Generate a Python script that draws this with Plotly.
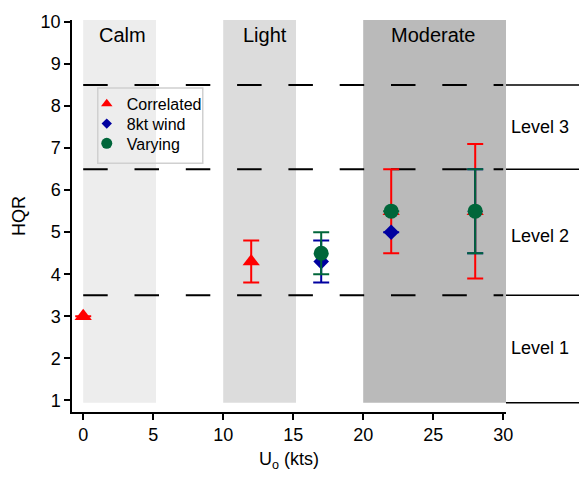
import plotly.graph_objects as go

# ---- data ----
corr_x = [0, 12, 22, 28]
corr_y = [3.0, 4.3, 5.5, 5.5]
corr_err = [0.0, 0.5, 1.0, 1.6]

wind_x = [17, 22, 28]
wind_y = [4.3, 5.0, 5.5]
wind_err = [0.5, 0.0, 1.0]

vary_x = [17, 22, 28]
vary_y = [4.5, 5.5, 5.5]
vary_err = [0.5, 0.0, 1.0]

series_names = ["Correlated", "8kt wind", "Varying"]

regions = ["Calm", "Light", "Moderate"]
region_x0 = [0, 10, 20]
region_x1 = [5.2, 15.2, 30.2]
region_label_x = [2.8, 13.0, 25.0]
region_colors = ["#ededed", "#dcdcdc", "#bababa"]

level_bounds = [8.5, 6.5, 3.5]
level_bottom = 0.94
levels = ["Level 3", "Level 2", "Level 1"]
level_label_y = [7.5, 4.9, 2.25]

x_ticks = [0, 5, 10, 15, 20, 25, 30]
y_ticks = [1, 2, 3, 4, 5, 6, 7, 8, 9, 10]

XR = [-0.8, 30.2]
YR = [0.72, 10.05]

FONT = "Liberation Sans, Arial, sans-serif"
RED = "#ff0000"
BLUE = "#0000a0"
GREEN = "#00663a"

fig = go.Figure()

fig.add_trace(go.Scatter(
    x=corr_x, y=corr_y, mode="markers", name=series_names[0], showlegend=False,
    marker=dict(symbol="triangle-up", size=15, color=RED),
    error_y=dict(type="data", array=corr_err, color=RED, thickness=2, width=8),
))
fig.add_trace(go.Scatter(
    x=wind_x, y=wind_y, mode="markers", name=series_names[1], showlegend=False,
    marker=dict(symbol="diamond", size=12, color=BLUE),
    error_y=dict(type="data", array=wind_err, color=BLUE, thickness=2, width=8),
))
fig.add_trace(go.Scatter(
    x=vary_x, y=vary_y, mode="markers", name=series_names[2], showlegend=False,
    marker=dict(symbol="circle", size=15, color=GREEN),
    error_y=dict(type="data", array=vary_err, color=GREEN, thickness=2, width=8),
))

# legend entries (each in its own legend for tight row spacing)
legend_syms = ["triangle-up", "diamond", "circle"]
legend_sizes = [10, 8, 11]
legend_cols = [RED, BLUE, GREEN]
legend_ids = ["legend", "legend2", "legend3"]
for nm, sym, sz, col, lid in zip(series_names, legend_syms, legend_sizes, legend_cols, legend_ids):
    fig.add_trace(go.Scatter(x=[None], y=[None], mode="markers", name=nm,
                             marker=dict(symbol=sym, size=sz, color=col),
                             showlegend=True, legend=lid))

shapes = []
for x0, x1, c in zip(region_x0, region_x1, region_colors):
    shapes.append(dict(type="rect", xref="x", yref="y", x0=x0, x1=x1,
                       y0=level_bottom, y1=YR[1], fillcolor=c,
                       line=dict(width=0), layer="below"))
for lv in level_bounds:
    shapes.append(dict(type="line", xref="x", yref="y", x0=0, x1=30,
                       y0=lv, y1=lv, line=dict(color="black", width=2,
                       dash="24.5px,26.8px"), layer="below"))

def ypaper(v):
    return (v - YR[0]) / (YR[1] - YR[0])

for lv in level_bounds + [level_bottom]:
    shapes.append(dict(type="line", xref="paper", yref="paper", x0=1.0, x1=1.2,
                       y0=ypaper(lv), y1=ypaper(lv),
                       line=dict(color="black", width=1.5)))

# legend border box
shapes.append(dict(type="rect", xref="x", yref="y", x0=1.04, x1=8.54,
                   y0=6.64, y1=8.43, line=dict(color="#d0d0d0", width=1.5),
                   fillcolor="rgba(0,0,0,0)", layer="above"))

annotations = []
for name, x in zip(regions, region_label_x):
    annotations.append(dict(x=x, y=9.7, xref="x", yref="y", text=name,
                            showarrow=False, font=dict(size=20, color="black", family=FONT)))
for name, y in zip(levels, level_label_y):
    annotations.append(dict(x=1.006, y=y, xref="paper", yref="y", text=name,
                            xanchor="left", showarrow=False,
                            font=dict(size=18, color="black", family=FONT)))

legend_rows_px = [100.0, 120.0, 140.0]
leg_common = dict(x=0.034, xanchor="left", yanchor="middle",
                  bgcolor="rgba(0,0,0,0)", borderwidth=0,
                  font=dict(size=16, family=FONT), itemsizing="trace",
                  itemwidth=30)
legends = {}
for lid, py in zip(legend_ids, legend_rows_px):
    legends[lid] = dict(leg_common, y=(412 - py) / 397)

fig.update_layout(
    width=579, height=481,
    margin=dict(l=72, r=73, t=15, b=69),
    paper_bgcolor="white", plot_bgcolor="white",
    font=dict(family=FONT, size=17, color="black"),
    shapes=shapes, annotations=annotations,
    showlegend=True,
    **legends,
    xaxis=dict(range=XR, tickvals=x_ticks, showgrid=False, zeroline=False,
               showline=True, linecolor="black", linewidth=1.5,
               ticks="outside", ticklen=6, tickwidth=1.5, tickcolor="black",
               tickfont=dict(size=18),
               title=dict(text="U<sub>o</sub> (kts)", font=dict(size=18), standoff=8)),
    yaxis=dict(range=YR, tickvals=y_ticks, showgrid=False, zeroline=False,
               showline=True, linecolor="black", linewidth=1.5,
               ticks="outside", ticklen=6, tickwidth=1.5, tickcolor="black",
               tickfont=dict(size=18),
               title=dict(text="HQR", font=dict(size=18), standoff=10)),
)

fig.write_html("out.html")
